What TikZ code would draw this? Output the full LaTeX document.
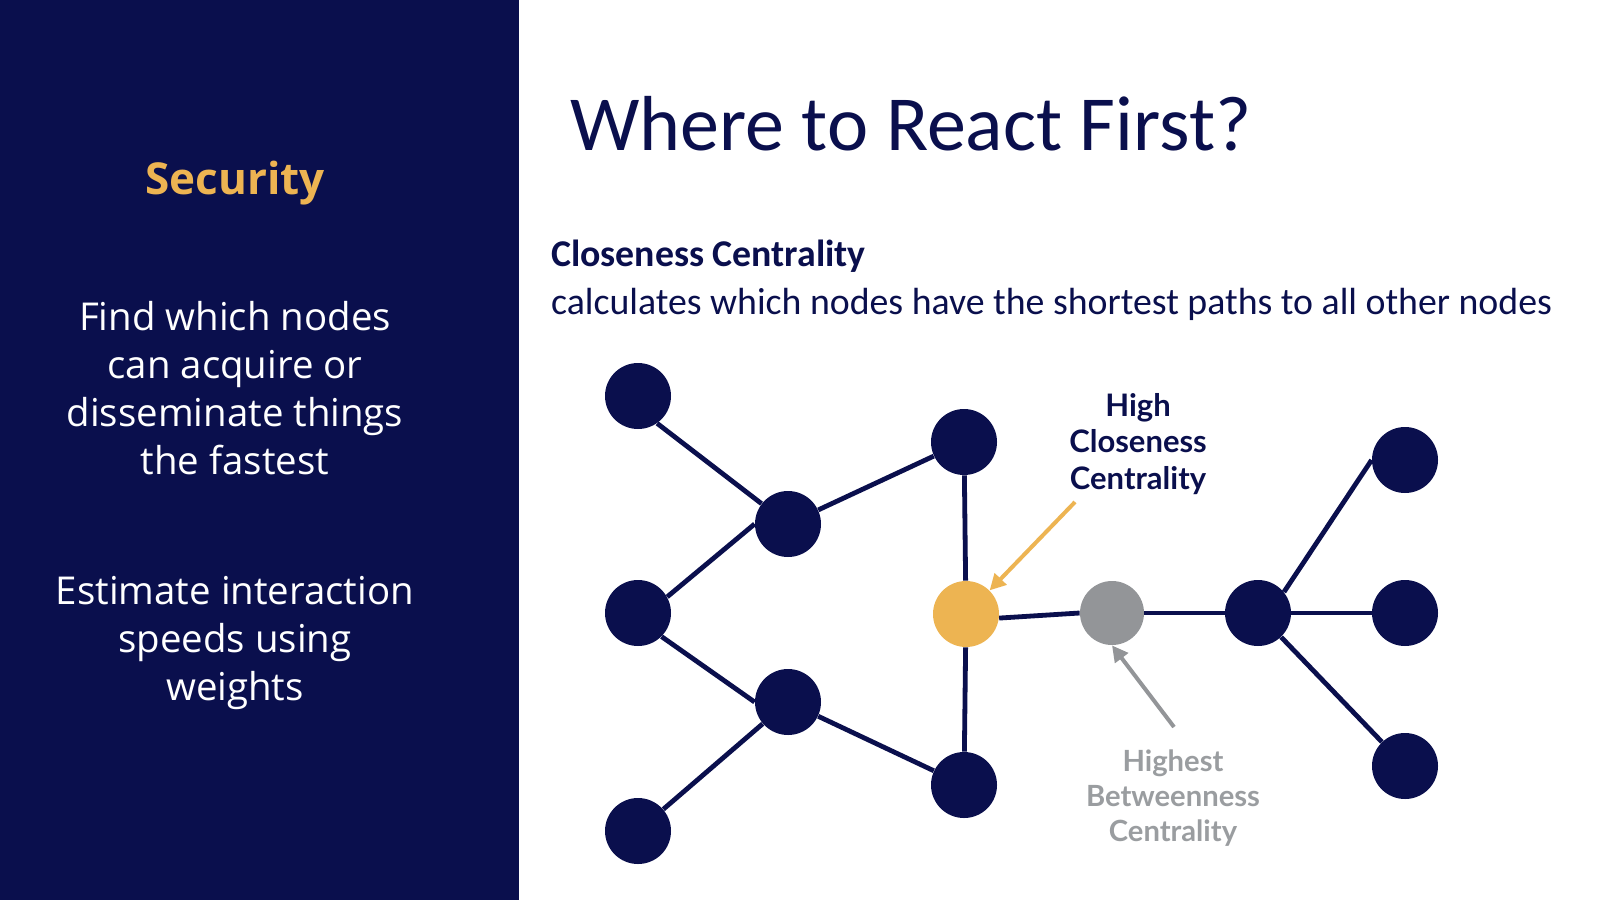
\documentclass[tikz,border=0pt]{standalone}
\usepackage{fontspec}
\setmainfont{Carlito}
\newfontfamily\lato{Lato}
\newfontfamily\opensans{Open Sans}
\usetikzlibrary{arrows.meta}
\definecolor{navy}{HTML}{0A0F4D}
\definecolor{gold}{HTML}{EDB452}
\definecolor{midgray}{HTML}{939598}
\definecolor{labgray}{HTML}{9A9DA0}
\begin{document}
\begin{tikzpicture}[x=0.5pt,y=-0.5pt,
  vert/.style={circle,fill=navy,minimum size=33pt,inner sep=0pt},
  edge/.style={draw=navy,line width=2.4pt},
  pointer/.style={line width=2pt,-{Triangle[length=8pt,width=8pt]}},
  sidetext/.style={text=white,align=center,font=\opensans\fontsize{19.2}{24}\selectfont},
  lab/.style={align=center}]
\useasboundingbox (0,0) rectangle (1600,900);
\fill[white] (0,0) rectangle (1600,900);
\fill[navy] (0,0) rectangle (519,900);

% left panel
\node[text=gold,font=\opensans\bfseries\fontsize{22}{24}\selectfont] (sec) at (235,183) {Security};
\node[sidetext] (t1) at (235,388) {Find which nodes\\can acquire or\\disseminate things\\the fastest};
\node[sidetext] (t2) at (235,643) {Estimate interaction\\speeds using\\weights};

% title and subtitle
\node[anchor=west,text=navy,font=\fontsize{39}{44}\selectfont] (title) at (563,124) {Where to React First?};
\node[anchor=west,text=navy,font=\bfseries\fontsize{18.9}{22}\selectfont] (sub1) at (544,256) {Closeness Centrality};
\node[anchor=west,text=navy,font=\fontsize{18.9}{22}\selectfont] (sub2) at (544,304) {calculates which nodes have the shortest paths to all other nodes};

% graph nodes
\node[vert] (A) at (638,396) {};
\node[vert] (B) at (788,524) {};
\node[vert] (C) at (964,442) {};
\node[vert] (D) at (638,613) {};
\node[vert] (E) at (788,702) {};
\node[vert] (F) at (638,831) {};
\node[vert] (G) at (964,785) {};
\node[vert,fill=gold] (Y) at (966,614) {};
\node[vert,fill=midgray,minimum size=32pt] (H) at (1112,613) {};
\node[vert] (I) at (1258,613) {};
\node[vert] (J) at (1405,460) {};
\node[vert] (K) at (1405,613) {};
\node[vert] (L) at (1405,766) {};

% edges
\draw[edge] (A.-55) -- (B);
\draw[edge] (B) -- (C);
\draw[edge] (B.west) -- (D.29);
\draw[edge] (D.-45) -- (E.west);
\draw[edge] (E) -- (F);
\draw[edge] (E) -- (G);
\draw[edge] (C) -- (Y);
\draw[edge] (Y) -- (G);
\draw[edge] (Y.-7) -- (H.west);
\draw[edge] (H) -- (I);
\draw[edge] (I.39) -- (J.west);
\draw[edge] (I) -- (K);
\draw[edge] (I) -- (L);

% labels
\node[lab,text=navy,font=\lato\bfseries\fontsize{15.5}{18.4}\selectfont] (hc) at (1138,444) {High\\Closeness\\Centrality};
\node[lab,text=labgray,font=\lato\bfseries\fontsize{14.6}{17.3}\selectfont] (hb) at (1173,798) {Highest\\Betweenness\\Centrality};

\coordinate (ys) at (1075,502);
\coordinate (gs) at (1174,727);
\draw[pointer,draw=gold,fill=gold] (ys) -- (Y.north east);
\draw[pointer,draw=midgray,fill=midgray] (gs) -- (H.south);
\end{tikzpicture}
\end{document}
